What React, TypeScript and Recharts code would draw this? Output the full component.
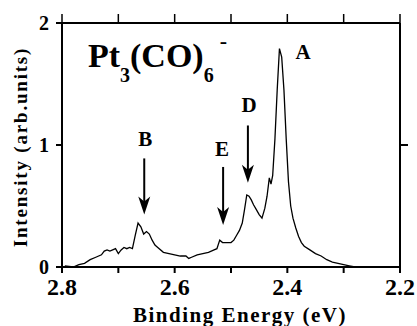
import { Label, Line, LineChart, ReferenceDot, ReferenceLine, XAxis, YAxis } from "recharts";

// Pt3(CO)6- photoelectron spectrum
const energy = [
  2.795, 2.78, 2.77, 2.76, 2.75, 2.74, 2.73, 2.725, 2.72, 2.715, 2.71, 2.705, 2.7, 2.695, 2.69, 2.685,
  2.68, 2.675, 2.67, 2.665, 2.66, 2.655, 2.65, 2.645, 2.64, 2.635, 2.63, 2.62, 2.61, 2.6, 2.59, 2.58,
  2.575, 2.57, 2.56, 2.55, 2.54, 2.53, 2.525, 2.52, 2.515, 2.51, 2.5, 2.495, 2.49, 2.485, 2.48, 2.476,
  2.472, 2.468, 2.464, 2.46, 2.455, 2.45, 2.445, 2.44, 2.436, 2.432, 2.429, 2.426, 2.422, 2.418, 2.414,
  2.41, 2.406, 2.402, 2.398, 2.394, 2.39, 2.385, 2.38, 2.375, 2.37, 2.36, 2.35, 2.34, 2.33, 2.32, 2.31,
  2.3, 2.29, 2.28, 2.25, 2.23,
];
const intensity = [
  0.01, 0.0, 0.02, 0.03, 0.06, 0.08, 0.1, 0.13, 0.14, 0.13, 0.14, 0.15, 0.11, 0.14, 0.16, 0.15,
  0.16, 0.15, 0.26, 0.36, 0.33, 0.27, 0.29, 0.27, 0.22, 0.18, 0.16, 0.12, 0.11, 0.1, 0.09, 0.09,
  0.07, 0.08, 0.1, 0.11, 0.12, 0.14, 0.15, 0.22, 0.2, 0.2, 0.2, 0.22, 0.26, 0.3, 0.36, 0.47,
  0.59, 0.58, 0.55, 0.51, 0.47, 0.43, 0.4, 0.48, 0.58, 0.73, 0.68, 0.75, 1.05, 1.45, 1.79,
  1.72, 1.45, 1.05, 0.7, 0.5, 0.4, 0.32, 0.25, 0.2, 0.17, 0.14, 0.11, 0.09, 0.06, 0.04, 0.03,
  0.02, 0.01, 0.0, 0.0, 0.0,
];

const xTicks = [2.8, 2.7, 2.6, 2.5, 2.4, 2.3, 2.2];
const xLabeled = [2.8, 2.6, 2.4, 2.2];
const yTicks = [0, 1, 2];

const peakNames = ["A", "B", "D", "E"];
const peakLabelX = [2.372, 2.652, 2.468, 2.516];
const peakLabelY = [1.76, 1.05, 1.33, 0.97];

const arrowX = [2.654, 2.514, 2.47];
const arrowTop = [0.89, 0.82, 1.16];
const arrowTip = [0.43, 0.345, 0.69];

const data = energy.map((e, i) => ({ e, v: intensity[i] }));

const font = "Liberation Serif, DejaVu Serif, serif";

const App = () => {
  return (
    <div style={{ position: "absolute", left: 0, top: 0, fontFamily: font }}>
      <LineChart width={417} height={326} data={data} margin={{ top: 23, right: 17, bottom: 0, left: 0 }}>
        <XAxis
          xAxisId="b"
          dataKey="e"
          type="number"
          domain={[2.2, 2.8]}
          reversed
          ticks={xTicks}
          interval={0}
          tickFormatter={(t: number) => (xLabeled.some((l) => Math.abs(l - t) < 1e-6) ? t.toFixed(1) : "")}
          height={59}
          tickSize={6}
          tickMargin={5}
          stroke="#000"
          strokeWidth={2}
          tick={{ fill: "#000", fontSize: 24, fontWeight: 700, fontFamily: font }}
        >
          <Label
            content={({ viewBox }: any) => (
              <text
                x={viewBox.x + viewBox.width / 2 + 9}
                y={322}
                textAnchor="middle"
                style={{ fontFamily: font }}
                fontWeight={700}
                fontSize={21}
                letterSpacing={1.5}
                fill="#000"
              >
                Binding Energy (eV)
              </text>
            )}
          />
        </XAxis>
        <YAxis
          yAxisId="l"
          type="number"
          domain={[0, 2]}
          ticks={yTicks}
          interval={0}
          width={62}
          tickSize={6}
          tickMargin={7}
          stroke="#000"
          strokeWidth={2}
          tick={{ fill: "#000", fontSize: 20, fontWeight: 700, fontFamily: font }}
        >
          <Label
            content={({ viewBox }: any) => {
              const cx = 20;
              const cy = viewBox.y + viewBox.height / 2 + 2;
              return (
                <text
                  x={cx}
                  y={cy}
                  transform={`rotate(-90 ${cx} ${cy})`}
                  textAnchor="middle"
                  dominantBaseline="central"
                  style={{ fontFamily: font }}
                  fontWeight={700}
                  fontSize={19}
                  letterSpacing={1.8}
                  fill="#000"
                >
                  Intensity (arb.units)
                </text>
              );
            }}
          />
        </YAxis>
        {/* top and right frame lines, inside the data range */}
        <ReferenceLine
          xAxisId="b"
          yAxisId="l"
          segment={[
            { x: 2.8, y: 2 },
            { x: 2.2, y: 2 },
          ]}
          stroke="#000"
          strokeWidth={2}
        />
        <ReferenceLine
          xAxisId="b"
          yAxisId="l"
          segment={[
            { x: 2.2, y: 0 },
            { x: 2.2, y: 2 },
          ]}
          stroke="#000"
          strokeWidth={2}
        />
        {/* outward ticks on the top frame */}
        {xTicks.map((t) => (
          <ReferenceDot
            key={`top-${t}`}
            xAxisId="b"
            yAxisId="l"
            x={t}
            y={2}
            r={0}
            shape={(p: any) => (
              <line x1={p.cx} x2={p.cx} y1={p.cy} y2={p.cy - 9} stroke="#000" strokeWidth={1.5} />
            )}
          />
        ))}
        {/* outward tick on the right frame */}
        <ReferenceDot
          xAxisId="b"
          yAxisId="l"
          x={2.2}
          y={1}
          r={0}
          shape={(p: any) => <line x1={p.cx} x2={p.cx + 8} y1={p.cy} y2={p.cy} stroke="#000" strokeWidth={2} />}
        />
        <Line
          xAxisId="b"
          yAxisId="l"
          type="linear"
          dataKey="v"
          stroke="#000"
          strokeWidth={1.3}
          dot={false}
          isAnimationActive={false}
        />
        {arrowX.map((x, i) => (
          <ReferenceLine
            key={`shaft-${i}`}
            xAxisId="b"
            yAxisId="l"
            segment={[
              { x, y: arrowTop[i] },
              { x, y: arrowTip[i] + 0.08 },
            ]}
            stroke="#000"
            strokeWidth={2}
          />
        ))}
        {arrowX.map((x, i) => (
          <ReferenceDot
            key={`head-${i}`}
            xAxisId="b"
            yAxisId="l"
            x={x}
            y={arrowTip[i]}
            r={0}
            shape={(p: any) => (
              <path
                d={`M${p.cx},${p.cy} L${p.cx - 6},${p.cy - 18} L${p.cx},${p.cy - 13} L${p.cx + 6},${p.cy - 18} Z`}
                fill="#000"
              />
            )}
          />
        ))}
        {peakNames.map((n, i) => (
          <ReferenceDot
            key={`lab-${n}`}
            xAxisId="b"
            yAxisId="l"
            x={peakLabelX[i]}
            y={peakLabelY[i]}
            r={0}
            shape={(p: any) => (
              <text
                x={p.cx}
                y={p.cy}
                textAnchor="middle"
                dominantBaseline="central"
                style={{ fontFamily: font }}
                fontWeight={700}
                fontSize={21}
                fill="#000"
              >
                {n}
              </text>
            )}
          />
        ))}
        <ReferenceDot
          xAxisId="b"
          yAxisId="l"
          x={2.754}
          y={1.64}
          r={0}
          shape={(p: any) => (
            <text x={p.cx} y={p.cy} style={{ fontFamily: font }} fontWeight={700} fontSize={34} fill="#000">
              Pt
              <tspan fontSize={20} dy={15}>
                3
              </tspan>
              <tspan fontSize={34} dy={-15}>
                (CO)
              </tspan>
              <tspan fontSize={20} dy={15}>
                6
              </tspan>
              <tspan fontSize={22} dx={6} dy={-34}>
                -
              </tspan>
            </text>
          )}
        />
      </LineChart>
    </div>
  );
};

export default App;
